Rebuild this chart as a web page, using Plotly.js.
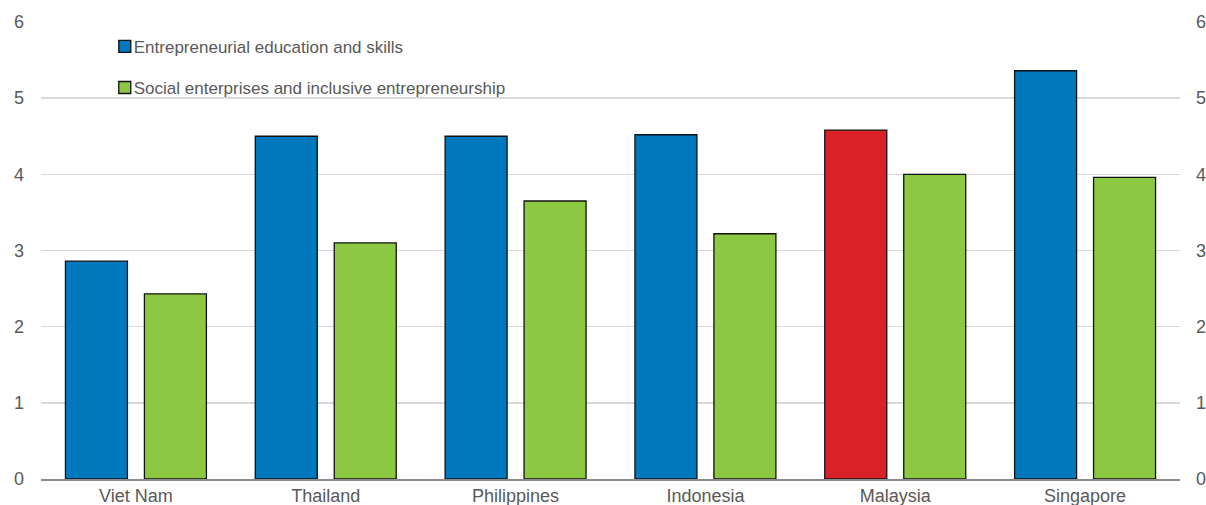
<!DOCTYPE html>
<html><head><meta charset="utf-8">
<script src="https://cdn.plot.ly/plotly-3.0.1.min.js"></script>
<style>html,body{margin:0;padding:0;background:#fff}#c{width:1206px;height:505px}</style>
</head><body><div id="c"></div>
<script>
const countries = ["Viet Nam","Thailand","Philippines","Indonesia","Malaysia","Singapore"];
const eduSkills = [2.86, 4.50, 4.50, 4.52, 4.58, 5.36];
const socialEnt = [2.43, 3.10, 3.65, 3.22, 4.00, 3.96];
const seriesNames = ["Entrepreneurial education and skills","Social enterprises and inclusive entrepreneurship"];
const yTicks = [0,1,2,3,4,5,6];

const BLUE = "#0078BE", GREEN = "#8CC841", RED = "#DA2128";
const FONT = "Liberation Sans Narrow, Arial Narrow, Liberation Sans, Arial, sans-serif";
const blueColors = countries.map(c => c === "Malaysia" ? RED : BLUE);

const traces = [
  {type:"bar", x:countries, y:eduSkills, name:seriesNames[0], legendgroup:"a",
   marker:{color:blueColors, line:{color:"#111", width:1.3}}, hoverinfo:"x+y"},
  {type:"bar", x:countries, y:socialEnt, name:seriesNames[1], legendgroup:"b",
   marker:{color:GREEN, line:{color:"#111", width:1.3}}, hoverinfo:"x+y"},
  {type:"scatter", x:countries, y:countries.map(()=>null), yaxis:"y2", showlegend:false, hoverinfo:"skip"}
];

const layout = {
  width:1206, height:505,
  margin:{l:41, r:26, t:22, b:26},
  paper_bgcolor:"#fff", plot_bgcolor:"#fff",
  font:{family:FONT, size:18, color:"#595959"},
  barmode:"group", bargap:0.168, bargroupgap:0.215,
  showlegend:true,
  legend:{x:0.056, y:0.985, xanchor:"left", yanchor:"top", bgcolor:"rgba(0,0,0,0)",
          font:{family:FONT, size:17, color:"#595959"}, tracegroupgap:16, traceorder:"grouped",
          itemwidth:30},
  xaxis:{type:"category", showgrid:false, showline:true, linecolor:"#8c8c8c", linewidth:1.5,
         ticks:"", tickfont:{family:FONT, size:18, color:"#595959"}, fixedrange:true},
  yaxis:{range:[0,6], tickvals:yTicks, showgrid:true, gridcolor:"#d9d9d9", gridwidth:1.5,
         zeroline:false, showline:false, ticks:"", ticklabelstandoff:16,
         tickfont:{family:FONT, size:18, color:"#595959"}, fixedrange:true},
  yaxis2:{range:[0,6], tickvals:yTicks, overlaying:"y", side:"right", showgrid:false,
         zeroline:false, showline:false, ticks:"", ticklabelstandoff:15,
         tickfont:{family:FONT, size:18, color:"#595959"}, fixedrange:true}
};
Plotly.newPlot("c", traces, layout, {displayModeBar:false, staticPlot:true}).then(gd => {
  gd.querySelectorAll(".legend .legendtext").forEach(t => {
    const x = parseFloat(t.getAttribute("x")) || 0;
    t.setAttribute("x", x - 11);
    t.querySelectorAll("tspan").forEach(s => { if (s.getAttribute("x")) s.setAttribute("x", parseFloat(s.getAttribute("x")) - 11); });
  });
});
</script></body></html>
